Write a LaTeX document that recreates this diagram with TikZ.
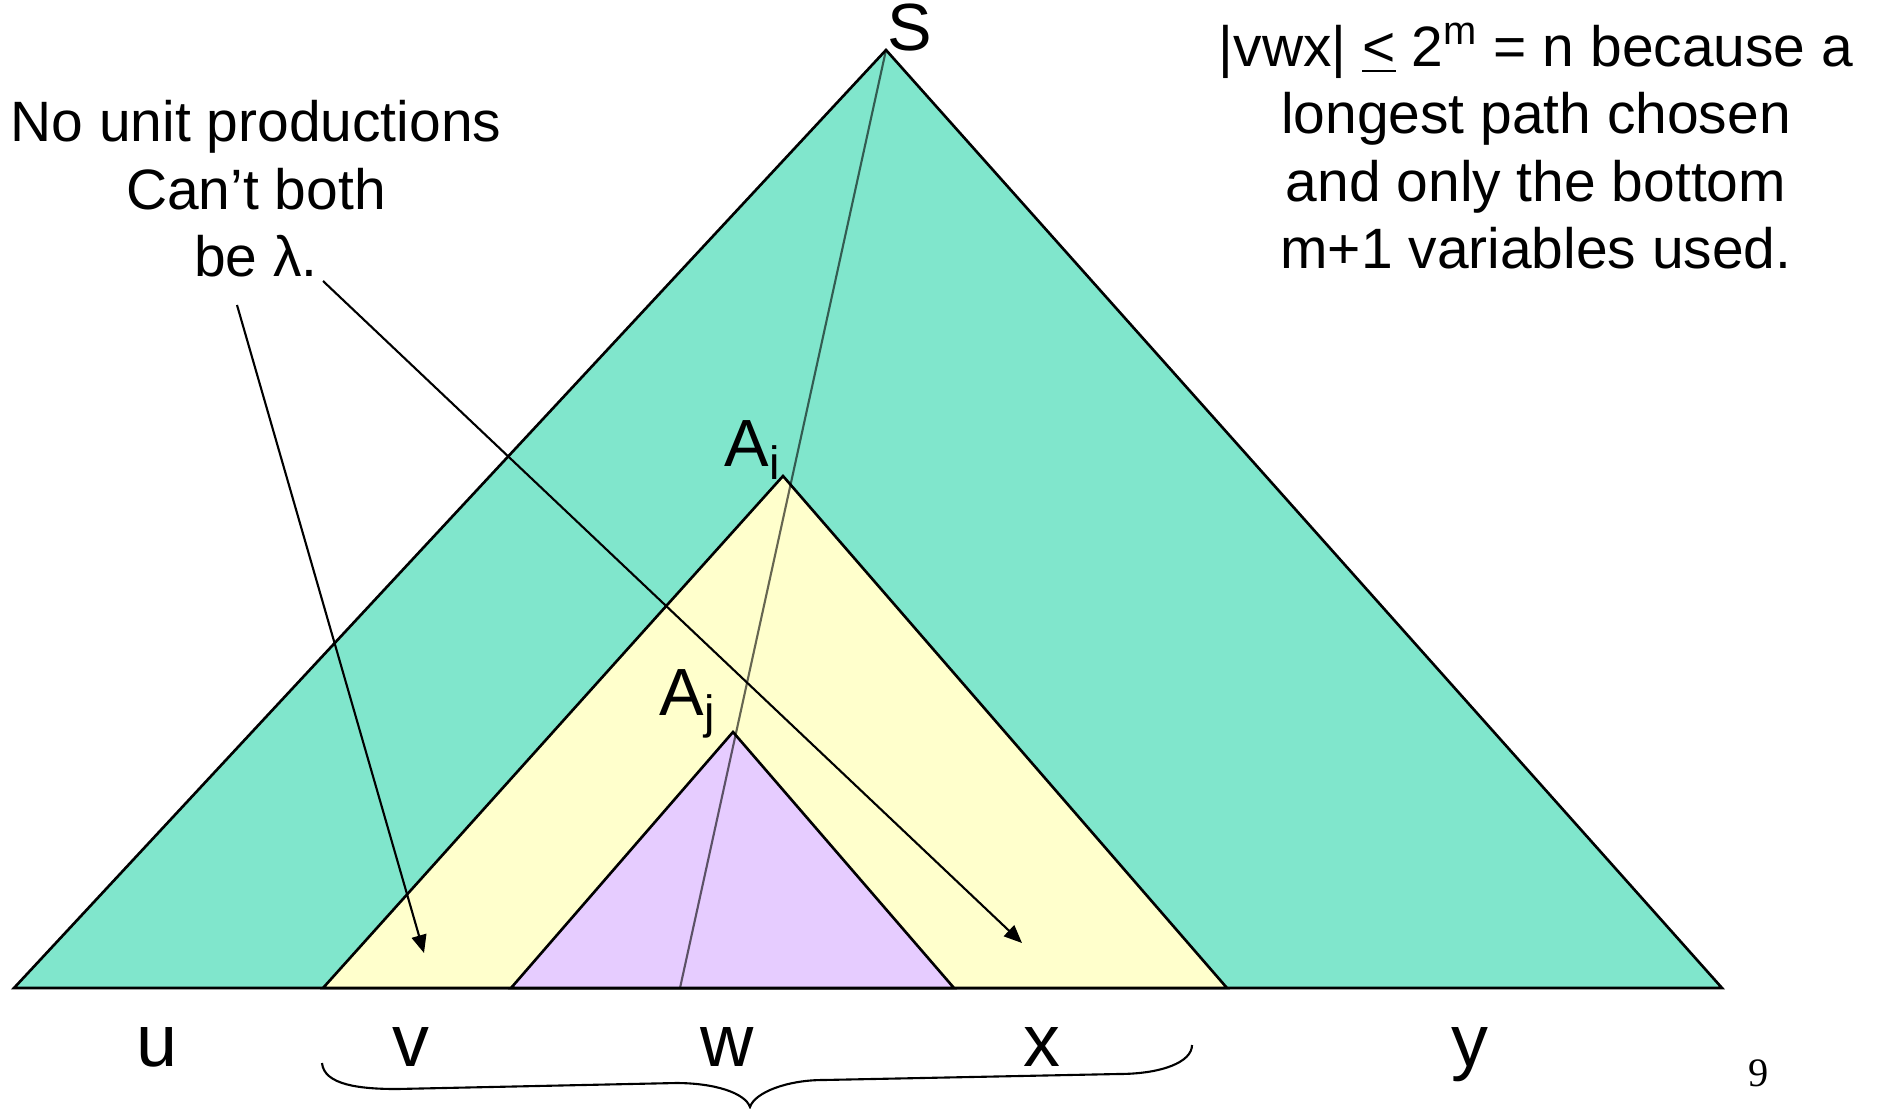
\documentclass[tikz,border=0pt]{standalone}
\usepackage{fontspec}
\setmainfont{Liberation Sans}
\newfontfamily\pagefont{Liberation Serif}
\usetikzlibrary{arrows.meta}
\definecolor{treegreen}{RGB}{128,230,204}
\definecolor{treeyellow}{RGB}{255,255,204}
\definecolor{treepurple}{RGB}{230,204,255}
\begin{document}
\begin{tikzpicture}[
  tri/.style={draw=black, line width=0.75pt, line join=miter},
  note/.style={align=center, inner sep=0pt, font=\fontsize{16.2}{19.2}\selectfont},
  var/.style={inner sep=0pt, font=\fontsize{19}{22}\selectfont},
  sym/.style={inner sep=0pt, anchor=base, font=\fontsize{21}{24}\selectfont},
  arr/.style={-{Triangle[length=1.8mm, width=1.5mm]}, line width=0.6pt}
]
\useasboundingbox (0,0) rectangle (18.77,-11.08);
\coordinate (sroot) at (8.86,-0.50);
\coordinate (ai) at (7.83,-4.76);
\coordinate (aj) at (7.33,-7.32);
\coordinate (pathend) at (6.80,-9.88);
\coordinate (vtip) at (4.24,-9.53);
\coordinate (xtip) at (10.22,-9.43);

\filldraw[tri, fill=treegreen] (0.14,-9.88) -- (sroot) -- (17.22,-9.88) -- cycle;
\filldraw[tri, fill=treeyellow] (3.23,-9.88) -- (ai) -- (12.27,-9.88) -- cycle;
\filldraw[tri, fill=treepurple] (5.11,-9.88) -- (aj) -- (9.54,-9.88) -- cycle;
\draw[black, opacity=0.6, line width=0.6pt] (sroot) -- (pathend);

\node[var] (slbl) at (9.10,-0.28) {S};
\node[var] (ailbl) at (7.53,-4.50) {A\textsubscript{i}};
\node[var] (ajlbl) at (6.88,-7.04) {A\textsubscript{j}};

\node[note, anchor=north] (unit) at (2.56,-1.00) {No unit productions\\Can’t both\\be λ.};
\node[note, anchor=north] (bound) at (15.36,-0.22) {|vwx| \underline{<} 2\textsuperscript{m} = n because a\\longest path chosen\\and only the bottom\\m+1 variables used.};

\coordinate (vstart) at (2.37,-3.05);
\coordinate (xstart) at (3.23,-2.81);
\draw[arr] (vstart) -- (vtip);
\draw[arr] (xstart) -- (xtip);

\node[sym] (u) at (1.57,-10.66) {u};
\node[sym] (v) at (4.11,-10.66) {v};
\node[sym] (w) at (7.27,-10.66) {w};
\node[sym] (x) at (10.42,-10.66) {x};
\node[sym] (y) at (14.70,-10.66) {y};

\coordinate (bleft) at (3.22,-10.63);
\coordinate (bmid) at (7.50,-11.07);
\coordinate (bright) at (11.92,-10.45);
\draw[line width=0.6pt] (bleft) .. controls (3.24,-10.85) and (3.60,-10.89) .. (3.97,-10.89)
  -- (6.76,-10.83) .. controls (7.15,-10.83) and (7.45,-10.93) .. (bmid)
  .. controls (7.55,-10.92) and (7.88,-10.80) .. (8.23,-10.80)
  -- (11.18,-10.74) .. controls (11.62,-10.74) and (11.92,-10.62) .. (bright);

\node[inner sep=0pt, anchor=base, font=\pagefont\fontsize{11.5}{13}\selectfont] (pagenum) at (17.59,-10.86) {9};
\end{tikzpicture}
\end{document}
